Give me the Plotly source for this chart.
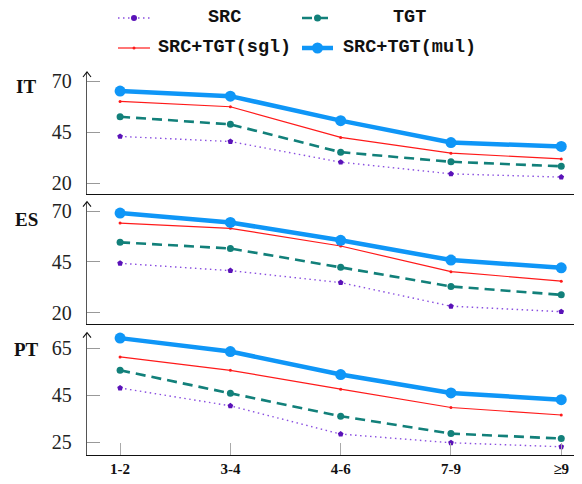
import plotly.graph_objects as go

categories = ["1-2", "3-4", "4-6", "7-9", "≥9"]
panels = ["IT", "ES", "PT"]

src = {"IT": [42.9, 40.4, 30.3, 24.6, 23.0],
       "ES": [44.3, 40.7, 34.8, 23.2, 20.5],
       "PT": [48.1, 40.5, 28.5, 24.8, 23.1]}
tgt = {"IT": [52.5, 48.8, 35.2, 30.5, 28.3],
       "ES": [54.6, 51.6, 42.3, 32.9, 28.8],
       "PT": [55.6, 45.9, 36.1, 28.7, 26.6]}
sgl = {"IT": [60.0, 57.4, 42.4, 34.7, 31.9],
       "ES": [64.1, 61.5, 52.8, 40.2, 35.5],
       "PT": [61.3, 55.6, 47.6, 39.8, 36.6]}
mul = {"IT": [65.1, 62.6, 50.6, 39.9, 38.0],
       "ES": [69.0, 64.4, 55.6, 45.9, 42.1],
       "PT": [69.3, 63.6, 53.8, 46.0, 43.1]}

yticks = {"IT": [20, 45, 70], "ES": [20, 45, 70], "PT": [25, 45, 65]}
yranges = {"IT": [14.6, 74.4], "ES": [14.3, 74.6], "PT": [19.6, 71.6]}

W, H = 582, 484
OFF = 8  # page body margin offset
ML, MT = 87 - OFF, 72 - OFF
MR = W - (580 - OFF)
MB = H - (455 - OFF)
PW, PH = W - ML - MR, H - MT - MB


def px(x):
    return (x - OFF - ML) / PW


def py(y):
    return (H - MB - (y - OFF)) / PH


domains = {"IT": [py(194.3), 1.0], "ES": [py(324.3), py(201.7)], "PT": [0.0, py(332.7)]}

C_SRC_L = "#8a4fe0"
C_SRC_M = "#5a12b8"
C_TGT = "#12807a"
C_SGL = "#ff1a1a"
C_MUL = "#0f96f7"

styles = [
    ("SRC", src, dict(color=C_SRC_L, width=1.4, dash="1.5px,3.5px"),
     dict(symbol="pentagon", size=6, color=C_SRC_M)),
    ("TGT", tgt, dict(color=C_TGT, width=2.6, dash="10px,6px"),
     dict(symbol="circle", size=7, color=C_TGT)),
    ("SRC+TGT(sgl)", sgl, dict(color=C_SGL, width=1.2),
     dict(symbol="circle", size=3, color=C_SGL)),
    ("SRC+TGT(mul)", mul, dict(color=C_MUL, width=4.5),
     dict(symbol="circle", size=11, color=C_MUL)),
]

xs = list(range(len(categories)))
fig = go.Figure()

for i, p in enumerate(panels):
    ax = "" if i == 0 else str(i + 1)
    for name, data, line, marker in styles:
        fig.add_trace(go.Scatter(
            x=xs, y=data[p], mode="lines+markers", name=name,
            line=line, marker=marker, showlegend=False,
            xaxis="x" + ax, yaxis="y" + ax, cliponaxis=False))

serif = "Liberation Serif"
for i, p in enumerate(panels):
    ax = "" if i == 0 else str(i + 1)
    last = (p == "PT")
    fig.layout["xaxis" + ax] = dict(
        domain=[0, 1], range=[-0.3, 4.17], anchor="y" + ax,
        tickvals=xs, ticktext=["<b>%s</b>" % c for c in categories],
        showticklabels=last, ticks="inside" if last else "",
        ticklen=12, tickcolor="#aaaaaa", tickwidth=1,
        showgrid=False, zeroline=False,
        showline=True, linecolor="#111111", linewidth=1.2,
        tickfont=dict(family=serif, size=15, color="#111111"),
        fixedrange=True)
    fig.layout["yaxis" + ax] = dict(
        domain=domains[p], range=yranges[p], anchor="x" + ax,
        tickvals=yticks[p], ticks="inside", ticklen=13,
        tickcolor="#999999", tickwidth=1, ticklabelstandoff=10,
        showgrid=False, zeroline=False,
        showline=True, linecolor="#555555", linewidth=1.4,
        tickfont=dict(family=serif, size=20, color="#222222"),
        fixedrange=True)

shapes = []
annotations = []
# axis arrowheads
for i, p in enumerate(panels):
    ax = "" if i == 0 else str(i + 1)
    xr = "x" + ax
    yr = "y" + ax
    shapes.append(dict(type="path", xref=xr + " domain", yref=yr + " domain",
                       xsizemode="pixel", ysizemode="pixel", xanchor=1, yanchor=0,
                       path="M -5,5 L 0,0 L -5,-5",
                       line=dict(color="#111111", width=1.1)))
    shapes.append(dict(type="path", xref=xr + " domain", yref=yr + " domain",
                       xsizemode="pixel", ysizemode="pixel", xanchor=0, yanchor=1,
                       path="M -4,-5 L 0,0 L 4,-5",
                       line=dict(color="#111111", width=1.1)))

# panel labels
label_y = {"IT": 87, "ES": 219, "PT": 349}
for p in panels:
    annotations.append(dict(text="<b>%s</b>" % p, xref="paper", yref="paper",
                            x=px(26), y=py(label_y[p]), xanchor="center", yanchor="middle",
                            showarrow=False, font=dict(family=serif, size=19, color="#111111")))

# legend
leg = [
    ("SRC", 118, 150, 18, 224, styles[0]),
    ("TGT", 302, 333, 18, 409, styles[1]),
    ("SRC+TGT(sgl)", 118, 150, 48, 224, styles[2]),
    ("SRC+TGT(mul)", 302, 333, 48, 409, styles[3]),
]
for name, x0, x1, yy, tx, st in leg:
    line, marker = st[2], st[3]
    ld = dict(color=line["color"], width=line["width"])
    if "dash" in line:
        ld["dash"] = line["dash"]
    shapes.append(dict(type="line", xref="paper", yref="paper",
                       x0=px(x0), x1=px(x1), y0=py(yy), y1=py(yy), line=ld))
    r = max(marker["size"] / 2.0, 1.5)
    shapes.append(dict(type="circle", xref="paper", yref="paper",
                       xsizemode="pixel", ysizemode="pixel",
                       xanchor=px((x0 + x1) / 2), yanchor=py(yy),
                       x0=-r, x1=r, y0=-r, y1=r,
                       fillcolor=marker["color"], line=dict(width=0)))
    annotations.append(dict(text="<b>%s</b>" % name, xref="paper", yref="paper",
                            x=px(tx), y=py(yy), xanchor="center", yanchor="middle",
                            showarrow=False,
                            font=dict(family="Liberation Mono", size=18.5, color="#111111")))

fig.update_layout(
    width=W, height=H, margin=dict(l=ML, r=MR, t=MT, b=MB, autoexpand=False),
    paper_bgcolor="white", plot_bgcolor="white",
    shapes=shapes, annotations=annotations, showlegend=False)

fig.write_html("out.html", config={"displayModeBar": False})
